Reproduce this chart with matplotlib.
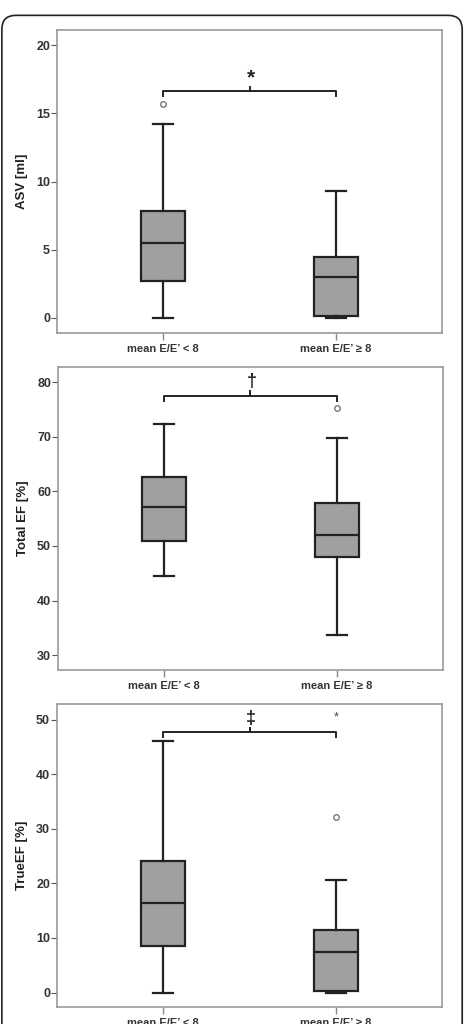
import matplotlib
matplotlib.use("Agg")
import matplotlib.pyplot as plt
from matplotlib.patches import FancyBboxPatch

plt.rcParams['font.family'] = ['Liberation Sans', 'DejaVu Sans']

# ---------------------------------------------------------------
# Data
# ---------------------------------------------------------------
groups = ["mean E/E\u2019 < 8", "mean E/E\u2019 \u2265 8"]

# ASV [ml]
asv_whislo = [0.0, 0.0]
asv_q1 = [2.73, 0.15]
asv_med = [5.52, 3.03]
asv_q3 = [7.85, 4.45]
asv_whishi = [14.2, 9.3]
asv_out = [[15.67], []]
asv_ext = [[], []]

# Total EF [%]
tef_whislo = [44.5, 33.7]
tef_q1 = [51.0, 48.0]
tef_med = [57.1, 52.1]
tef_q3 = [62.7, 57.9]
tef_whishi = [72.4, 69.8]
tef_out = [[], [75.3]]
tef_ext = [[], []]

# TrueEF [%]
true_whislo = [0.0, 0.0]
true_q1 = [8.5, 0.25]
true_med = [16.4, 7.4]
true_q3 = [24.1, 11.5]
true_whishi = [46.15, 20.7]
true_out = [[], [32.2]]
true_ext = [[], [50.4]]

ylabels = ["ASV [ml]", "Total EF [%]", "TrueEF [%]"]
ylims = [(-1.1, 21.1), (27.3, 82.7), (-2.7, 52.8)]
yticks = [[0, 5, 10, 15, 20], [30, 40, 50, 60, 70, 80], [0, 10, 20, 30, 40, 50]]
signif = ["*", "\u2020", "\u2021"]
bracket_y = [16.6, 77.5, 47.7]
bracket_drop = [0.3, 0.9, 0.8]

panels = [
    (asv_whislo, asv_q1, asv_med, asv_q3, asv_whishi, asv_out, asv_ext),
    (tef_whislo, tef_q1, tef_med, tef_q3, tef_whishi, tef_out, tef_ext),
    (true_whislo, true_q1, true_med, true_q3, true_whishi, true_out, true_ext),
]

# axes rectangles in figure fractions (left, bottom, width, height)
rects = [
    (0.1226, 0.6748, 0.828, 0.2959),
    (0.1247, 0.3457, 0.828, 0.2956),
    (0.1226, 0.0163, 0.828, 0.2959),
]

fig = plt.figure(figsize=(4.65, 10.24), dpi=100)

# rounded frame around the whole picture
frame = FancyBboxPatch((0.004, -0.05), 0.99, 1.035,
                       boxstyle="round,pad=0,rounding_size=0.03",
                       transform=fig.transFigure, facecolor="none",
                       edgecolor="#222222", linewidth=1.2,
                       mutation_aspect=465 / 1024)
fig.patches.append(frame)

dark = "#222222"

for i, (lo, q1, med, q3, hi, outl, ext) in enumerate(panels):
    ax = fig.add_axes(rects[i])
    stats = []
    for j in range(2):
        stats.append(dict(whislo=lo[j], q1=q1[j], med=med[j], q3=q3[j],
                          whishi=hi[j], fliers=outl[j]))
    ax.bxp(stats, positions=[1, 2], widths=0.254, patch_artist=True,
           showfliers=True, capwidths=0.12,
           boxprops=dict(facecolor="#a0a0a0", edgecolor=dark, linewidth=1.6),
           medianprops=dict(color=dark, linewidth=1.6),
           whiskerprops=dict(color=dark, linewidth=1.6),
           capprops=dict(color=dark, linewidth=1.6),
           flierprops=dict(marker="o", markersize=4, markerfacecolor="white",
                           markeredgecolor="#777777", markeredgewidth=1.0))
    # extreme values are marked with a star
    for j in range(2):
        for v in ext[j]:
            ax.text(j + 1, v, "*", ha="center", va="center", fontsize=9,
                    color="#444444")

    # significance bracket
    by = bracket_y[i]
    d = bracket_drop[i]
    ax.plot([1, 1, 2, 2], [by - d, by, by, by - d], color=dark, lw=1.4,
            solid_joinstyle="round")
    ax.plot([1.5, 1.5], [by, by + d], color=dark, lw=1.4)
    ax.text(1.51, by + d * 1.1, signif[i], ha="center", va="bottom",
            fontsize=15 if i == 0 else 13, fontweight="bold", color=dark)

    ax.set_xlim(0.387, 2.613)
    ax.set_ylim(*ylims[i])
    ax.set_yticks(yticks[i])
    ax.set_xticks([1, 2])
    ax.set_xticklabels(groups, fontsize=8, fontweight="bold", color="#333333")
    ax.set_ylabel(ylabels[i], fontsize=9.5, fontweight="bold", color="#222222",
                  labelpad=6)
    for lab in ax.get_yticklabels():
        lab.set_fontweight("bold")
        lab.set_fontsize(9)
        lab.set_color("#333333")
    ax.tick_params(axis="y", length=4, width=0.8, color="#555555", pad=1)
    ax.tick_params(axis="x", length=5, width=1.0, color="#888888", pad=3)
    for s in ax.spines.values():
        s.set_color("#999999")
        s.set_linewidth(1.2)

fig.savefig("out.png", dpi=100)
